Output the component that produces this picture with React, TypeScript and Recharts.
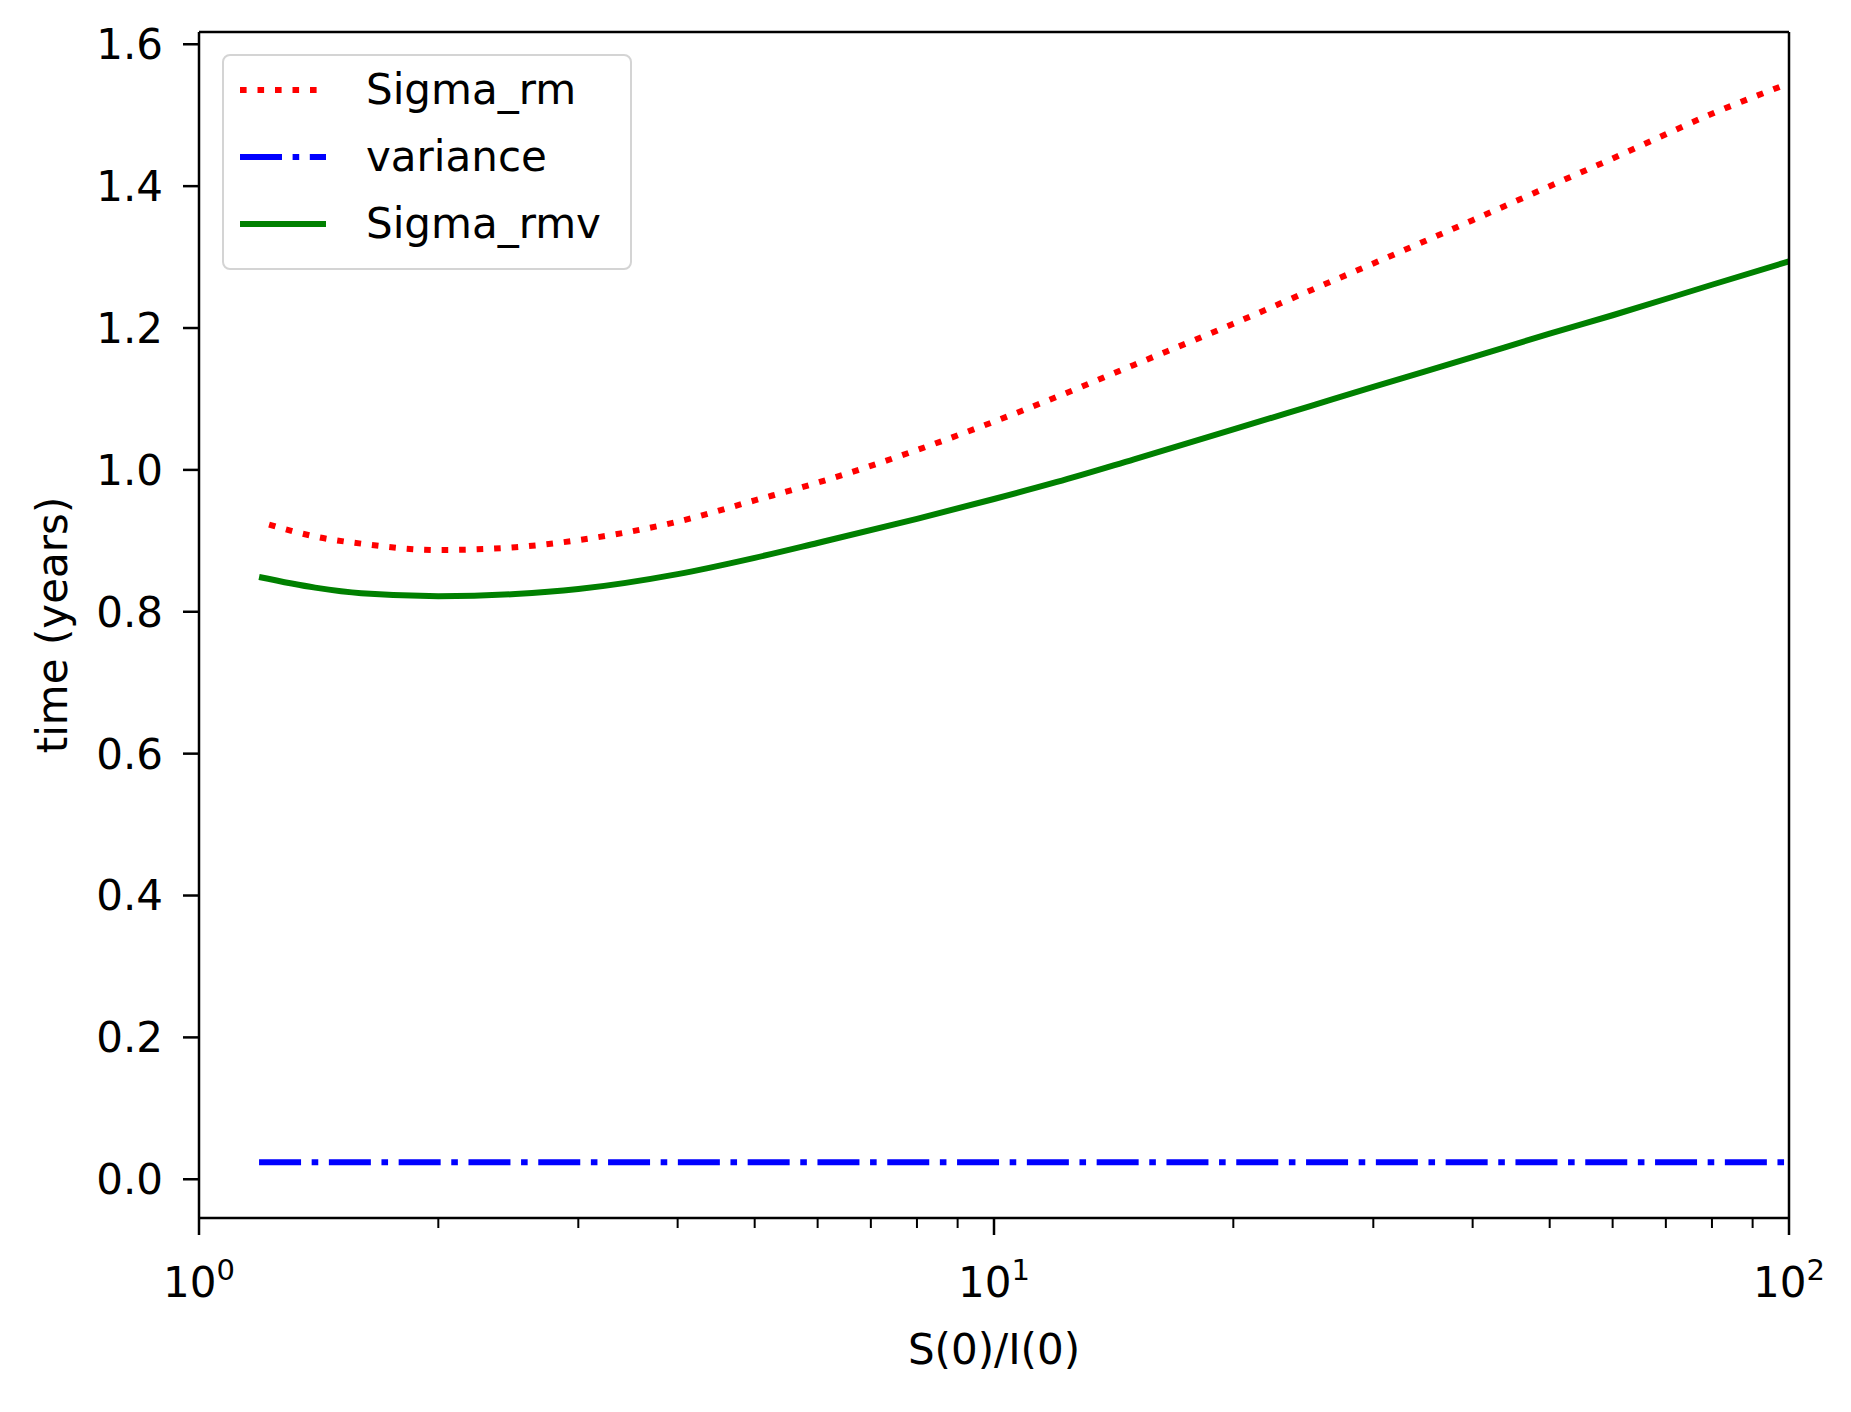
import { LineChart, Line, XAxis, YAxis, Legend } from "recharts";

// S(0)/I(0) values and curve readings
const rmX = [1.225, 1.4, 1.6, 2, 2.5, 3, 4, 5, 6, 8, 10, 12, 15, 20, 25, 30, 40, 50, 60, 80, 100];
const rmY = [0.923, 0.906, 0.896, 0.887, 0.891, 0.901, 0.927, 0.957, 0.982, 1.028, 1.068, 1.103, 1.148, 1.206, 1.253, 1.291, 1.352, 1.4, 1.439, 1.502, 1.545];

const varX = [1.19, 2, 5, 10, 20, 50, 100];
const varY = [0.024, 0.024, 0.024, 0.024, 0.024, 0.024, 0.024];

const rmvX = [1.19, 1.4, 1.6, 2, 2.5, 3, 4, 5, 6, 8, 10, 12, 15, 20, 25, 30, 40, 50, 60, 80, 100];
const rmvY = [0.849, 0.834, 0.826, 0.822, 0.825, 0.832, 0.853, 0.876, 0.897, 0.931, 0.959, 0.983, 1.015, 1.057, 1.09, 1.117, 1.159, 1.192, 1.218, 1.261, 1.294];

const xTicks = [1, 2, 3, 4, 5, 6, 7, 8, 9, 10, 20, 30, 40, 50, 60, 70, 80, 90, 100];
const yTicks = [0, 0.2, 0.4, 0.6, 0.8, 1.0, 1.2, 1.4, 1.6];

const toRows = (xs: number[], ys: number[]) => xs.map((x, i) => ({ x, y: ys[i] }));

const SERIES = [
  { name: "Sigma_rm", color: "#ff0000", dash: "6.6 10.9", data: toRows(rmX, rmY) },
  { name: "variance", color: "#0000ff", dash: "42 10.6 6.6 10.6", data: toRows(varX, varY) },
  { name: "Sigma_rmv", color: "#008000", dash: undefined, data: toRows(rmvX, rmvY) },
];

const FONT = "'DejaVu Sans', sans-serif";

function LogTick({ x, y, payload }: any) {
  const v = payload.value;
  const exp = Math.log10(v);
  const major = Math.abs(exp - Math.round(exp)) < 1e-9;
  return (
    <g>
      <line
        x1={x}
        x2={x}
        y1={y}
        y2={y + (major ? 17 : 10)}
        stroke="#000"
        strokeWidth={major ? 2.5 : 2}
      />
      {major && (
        <text x={x} y={y + 79} textAnchor="middle" fontSize={42} fill="#000" fontFamily={FONT}>
          10
          <tspan dy={-17} fontSize={29}>
            {Math.round(exp)}
          </tspan>
        </text>
      )}
    </g>
  );
}

function LegendBox() {
  return (
    <div
      style={{
        boxSizing: "border-box",
        width: 410,
        height: 216,
        border: "2px solid #d4d4d4",
        borderRadius: 8,
        background: "rgba(255,255,255,0.8)",
        fontFamily: FONT,
        fontSize: 42,
        color: "#000",
      }}
    >
      {SERIES.map((s) => (
        <div key={s.name} style={{ display: "flex", alignItems: "center", height: 67, paddingLeft: 16 }}>
          <svg width={86} height={12} style={{ display: "block" }}>
            <line x1={0} x2={86} y1={6} y2={6} stroke={s.color} strokeWidth={6} strokeDasharray={s.dash} />
          </svg>
          <span style={{ marginLeft: 40, lineHeight: "67px", whiteSpace: "nowrap" }}>{s.name}</span>
        </div>
      ))}
    </div>
  );
}

export default function App() {
  return (
    <div style={{ position: "absolute", left: 0, top: 0, width: 1851, height: 1412, background: "#fff" }}>
      <LineChart width={1851} height={1412} margin={{ top: 31, right: 61, bottom: 0, left: 0 }}>
        <XAxis
          dataKey="x"
          type="number"
          scale="log"
          domain={[1, 100]}
          allowDataOverflow
          ticks={xTicks}
          interval={0}
          height={194}
          tickSize={0}
          tickMargin={0}
          tickLine={false}
          axisLine={{ stroke: "#000", strokeWidth: 2.5 }}
          tick={<LogTick />}
          label={{
            value: "S(0)/I(0)",
            position: "insideTop",
            offset: 116,
            fontSize: 42,
            fill: "#000",
            fontFamily: FONT,
          }}
        />
        {/* top spine */}
        <XAxis
          xAxisId="top"
          orientation="top"
          type="number"
          domain={[0, 1]}
          height={1}
          tick={false}
          tickLine={false}
          axisLine={{ stroke: "#000", strokeWidth: 2.5 }}
        />
        <YAxis
          type="number"
          domain={[-0.0546, 1.6173]}
          allowDataOverflow
          ticks={yTicks}
          interval={0}
          width={199}
          tickSize={16}
          tickMargin={20}
          tickLine={{ stroke: "#000", strokeWidth: 2.5 }}
          axisLine={{ stroke: "#000", strokeWidth: 2.5 }}
          tick={{ fontSize: 42, fill: "#000", fontFamily: FONT }}
          tickFormatter={(v: number) => v.toFixed(1)}
          label={{
            value: "time (years)",
            angle: -90,
            position: "center",
            dx: -47.5,
            fontSize: 42,
            fill: "#000",
            fontFamily: FONT,
          }}
        />
        {/* right spine */}
        <YAxis
          yAxisId="right"
          orientation="right"
          type="number"
          domain={[0, 1]}
          width={1}
          tick={false}
          tickLine={false}
          axisLine={{ stroke: "#000", strokeWidth: 2.5 }}
        />
        <Legend
          layout="horizontal"
          verticalAlign="middle"
          align="center"
          wrapperStyle={{ position: "absolute", left: 222, top: 54, width: 410, height: 216 }}
          content={() => <LegendBox />}
        />
        {SERIES.map((s) => (
          <Line
            key={s.name}
            data={s.data}
            dataKey="y"
            name={s.name}
            type="monotone"
            stroke={s.color}
            strokeWidth={6}
            strokeDasharray={s.dash}
            dot={false}
            activeDot={false}
            isAnimationActive={false}
          />
        ))}
      </LineChart>
    </div>
  );
}
